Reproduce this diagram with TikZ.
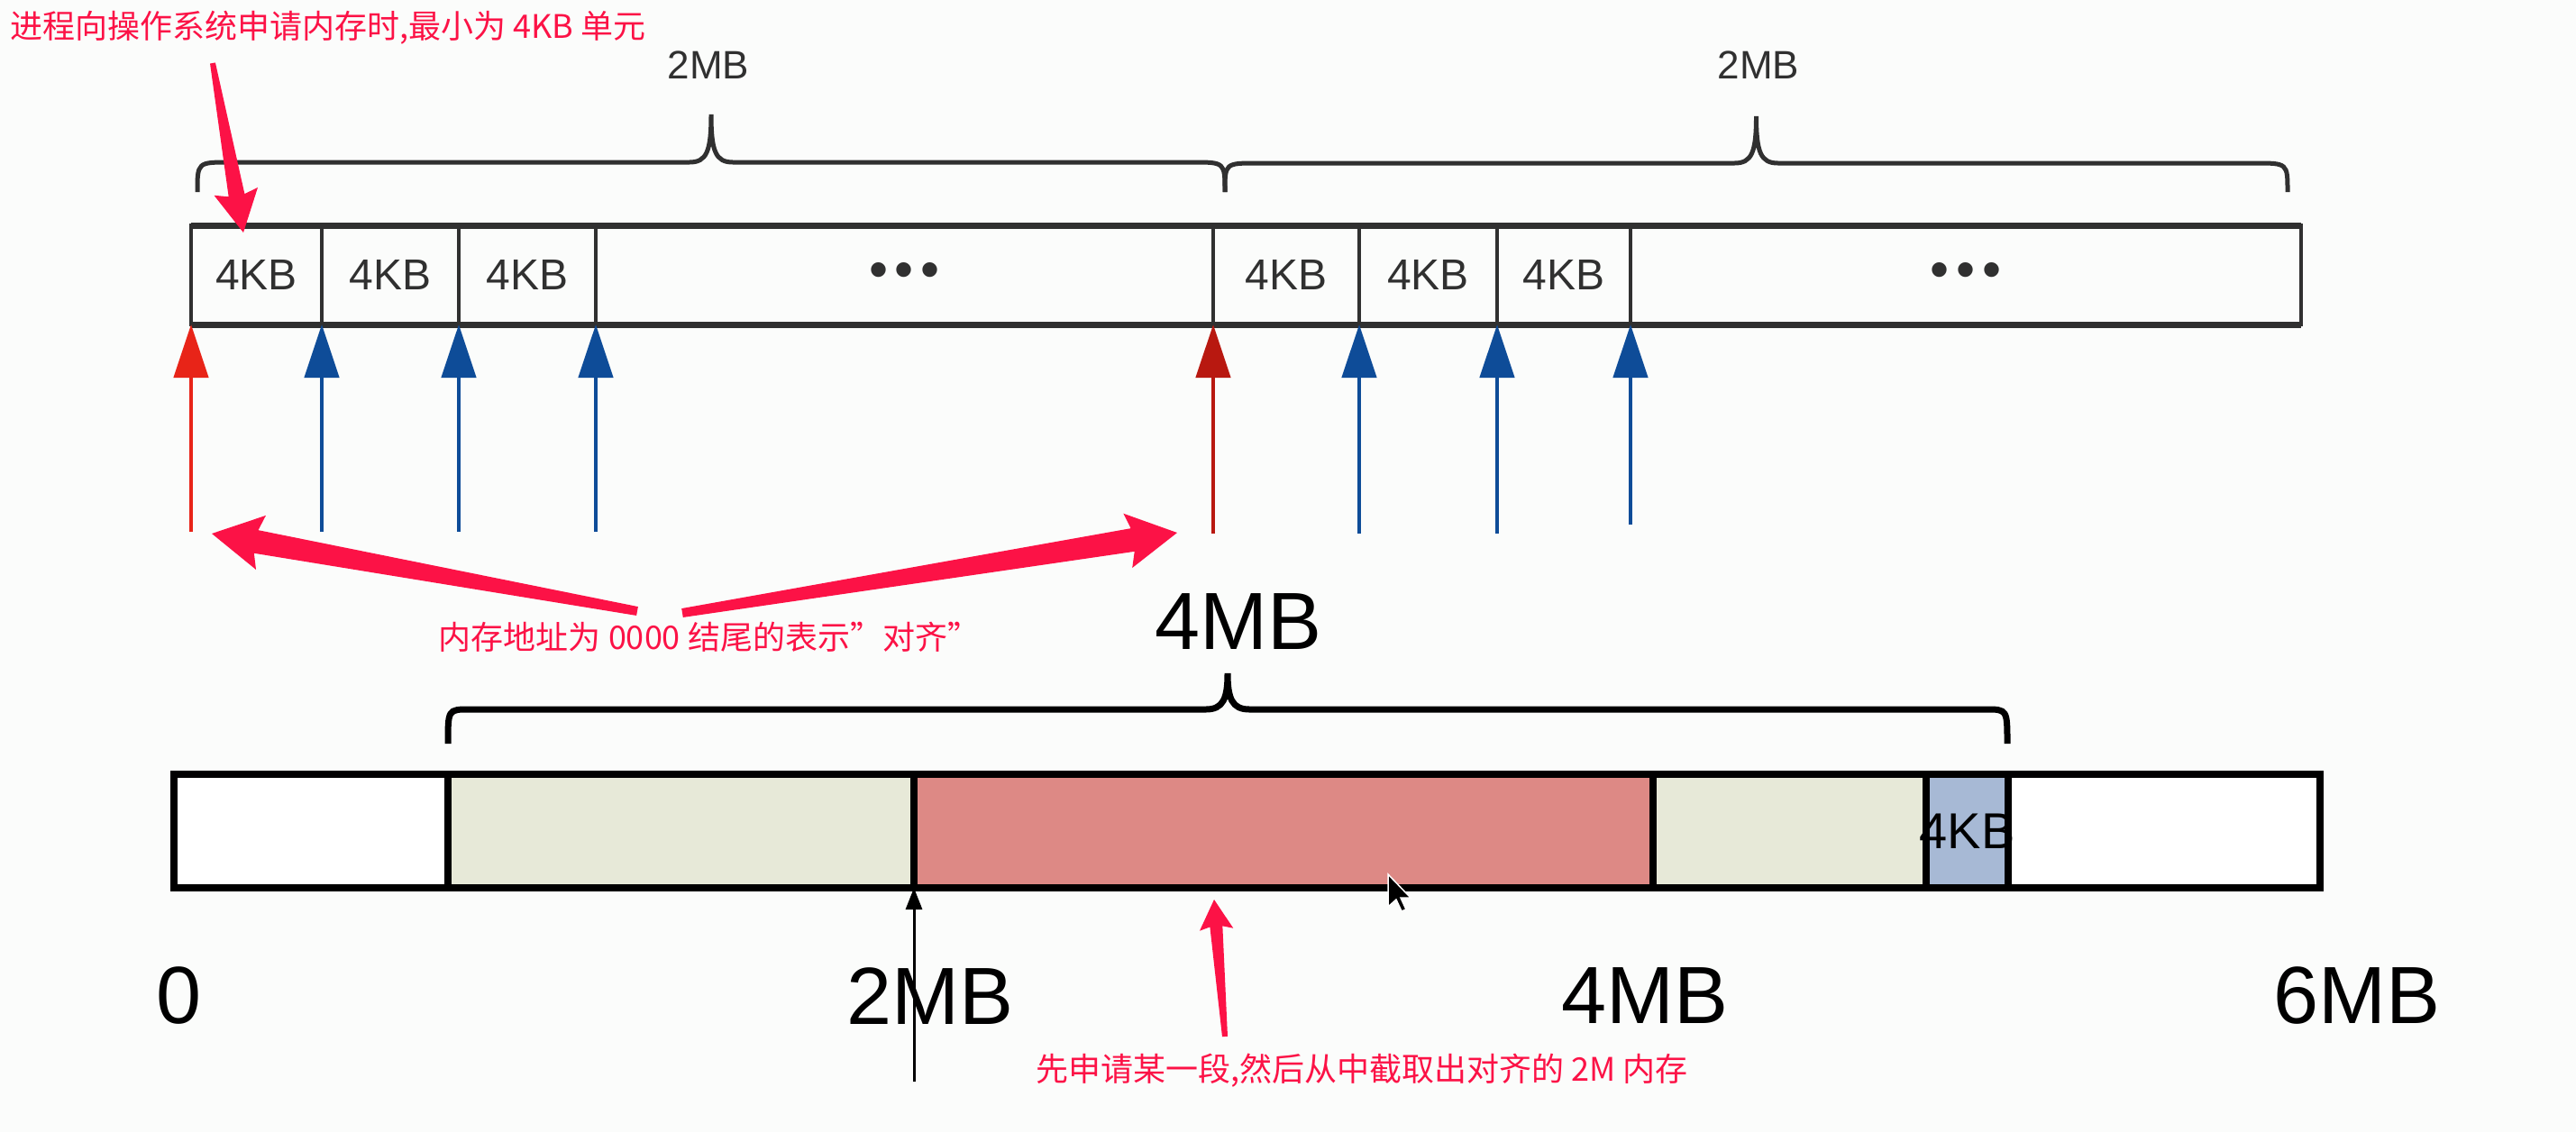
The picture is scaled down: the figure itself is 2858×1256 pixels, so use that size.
\documentclass[tikz,border=0pt]{standalone}
\usepackage{fontspec}
\setmainfont{Liberation Sans}
\newfontfamily\cjk{Noto Sans CJK SC}
\usetikzlibrary{arrows.meta}
\usetikzlibrary{calc}

\definecolor{paper}{RGB}{251,252,251}
\definecolor{boxline}{RGB}{48,48,48}
\definecolor{alignred}{RGB}{232,36,24}
\definecolor{alignreddark}{RGB}{184,24,16}
\definecolor{pageblue}{RGB}{14,76,152}
\definecolor{annot}{RGB}{252,18,70}
\definecolor{spare}{RGB}{231,233,216}
\definecolor{chunk}{RGB}{221,137,133}
\definecolor{pagecell}{RGB}{167,185,213}

\newcommand{\dotsmark}{{\fontsize{60}{60}\selectfont\textbullet\kern8pt\textbullet\kern8pt\textbullet}}

% curly brace: x1, x2, y of ends, y of line, y of tip, curl
\newcommand{\sizebrace}[7]{%
  \draw[#7] (#1,#3) .. controls (#1,#4) .. ({#1+#6},#4)
    -- ({(#1+#2)/2-24},#4) .. controls ({(#1+#2)/2-5},#4) and ({(#1+#2)/2},{#4-12}) .. ({(#1+#2)/2},#5)
    .. controls ({(#1+#2)/2},{#4-12}) and ({(#1+#2)/2+5},#4) .. ({(#1+#2)/2+24},#4)
    -- ({#2-#6},#4) .. controls (#2,#4) .. (#2,#3);
}

% hand drawn marker arrow: tail, shaft, head length, head half width, from, to
\newcommand{\fatarrow}[6]{%
  \coordinate (fh) at ($(#6)!#3pt!(#5)$);
  \fill[annot] ($(#5)!#1pt!90:(#6)$) -- ($(fh)!#2pt!-90:(#5)$) -- ($(fh)!#4pt!-80:(#5)$)
    -- (#6) -- ($(fh)!#4pt!80:(#5)$) -- ($(fh)!#2pt!90:(#5)$) -- ($(#5)!#1pt!-90:(#6)$) -- cycle;
}

\begin{document}
\begin{tikzpicture}[x=1pt, y=-1pt,
  cell/.style={draw=boxline, line width=4.5pt, minimum height=110pt, inner sep=0pt,
    outer sep=0pt, anchor=south west, text=boxline, font=\fontsize{48}{56}\selectfont},
  slot/.style={draw=black, line width=8pt, minimum height=126pt, inner sep=0pt,
    outer sep=0pt, anchor=south west},
  spanlabel/.style={inner sep=0pt, text=boxline, font=\fontsize{44}{50}\selectfont},
  axislabel/.style={inner sep=0pt, font=\fontsize{90}{100}\selectfont},
  notetext/.style={inner sep=0pt, text=annot, font=\cjk\fontsize{36}{40}\selectfont},
  alignarrow/.style={line width=4.5pt, -{Triangle[length=59pt, width=38pt]}},
  pagearrow/.style={alignarrow, pageblue},
]
  \useasboundingbox (0,0) rectangle (2858,1256);
  \fill[paper] (0,0) rectangle (2858,1256);

  % 2MB pages
  \sizebrace{219}{1359}{213}{180}{127}{36}{boxline, line width=5pt}
  \sizebrace{1359}{2538}{213}{181}{129}{36}{boxline, line width=5pt}
  \node[spanlabel] (span1) at (786,72) {2MB};
  \node[spanlabel] (span2) at (1951,72) {2MB};

  \foreach \name/\xa/\xb/\txt in {c1/212/357/4KB, c2/357/509/4KB, c3/509/661/4KB, c4/661/1346/\dotsmark,
      d1/1346/1508/4KB, d2/1508/1661/4KB, d3/1661/1809/4KB, d4/1809/2553/\dotsmark}
    \node[cell, minimum width={(\xb-\xa)*1pt}] (\name) at (\xa,360) {\txt};
  \draw[boxline, line width=7pt] (c1.north west) -- (d4.north east);
  \draw[boxline, line width=7pt] (c1.south west) -- (d4.south east);

  \coordinate (ta1) at (212,590);
  \coordinate (ta2) at (1346,592);
  \draw[alignarrow, alignred] (ta1) -- (c1.south west);
  \draw[alignarrow, alignreddark] (ta2) -- (d1.south west);
  \foreach \name/\y in {c2/590, c3/590, c4/590, d2/592, d3/592, d4/582} {
    \coordinate (\name-tail) at ($(\name.south west)+(0,\y-360)$);
    \draw[pagearrow] (\name-tail) -- (\name.south west);
  }

  % 6MB of memory, a 2MB aligned chunk cut from it
  \sizebrace{497}{2227}{825}{787}{747}{24}{black, line width=7pt}
  \node[axislabel] (span4) at (1374,690) {4MB};

  \foreach \name/\xa/\xb/\col in {s1/193/497/white, s2/497/1014/spare, s3/1014/1834/chunk,
      s4/1834/2137/spare, s5/2137/2228/pagecell, s6/2228/2574/white}
    \node[slot, fill=\col, minimum width={(\xb-\xa)*1pt}] (\name) at (\xa,985) {};
  \node[inner sep=0pt, font=\fontsize{56}{60}\selectfont] (pg) at (s5) {4KB};

  \node[axislabel] (ax0) at (199,1105) {0};
  \node[axislabel] (ax2) at (1032,1105) {2MB};
  \node[axislabel] (ax4) at (1825,1105) {4MB};
  \node[axislabel] (ax6) at (2615,1105) {6MB};

  \coordinate (pin) at (1014,1200);
  \draw[line width=3pt, -{Triangle[length=24pt, width=18pt]}] (pin) -- (s3.south west);

  % notes
  \node[notetext, anchor=west] (osnote) at (11,31) {进程向操作系统申请内存时,最小为 4KB 单元};
  \node[notetext] (alignnote) at (787,707) {内存地址为 0000 结尾的表示”对齐”};
  \node[notetext] (chunknote) at (1511,1188) {先申请某一段,然后从中截取出对齐的 2M 内存};

  \coordinate (os-a) at (236,70);
  \coordinate (os-b) at (270,258);
  \coordinate (al-a) at (707,678);
  \coordinate (al-b) at (235,592);
  \coordinate (al-c) at (757,680);
  \coordinate (al-d) at (1306,591);
  \coordinate (ch-a) at (1359,1150);
  \coordinate (ch-b) at (1347,998);
  \fatarrow{3}{9}{42}{25}{os-a}{os-b}
  \fatarrow{5}{13}{50}{31}{al-a}{al-b}
  \fatarrow{5}{13}{50}{31}{al-c}{al-d}
  \fatarrow{3}{7}{30}{19}{ch-a}{ch-b}

  % mouse pointer
  \draw[fill=black, draw=white, line width=1.5pt, shift={(1540,970)}]
    (0,0) -- (0,36) -- (9,28) -- (15,41) -- (20,39) -- (14,26) -- (25,26) -- cycle;
\end{tikzpicture}
\end{document}
